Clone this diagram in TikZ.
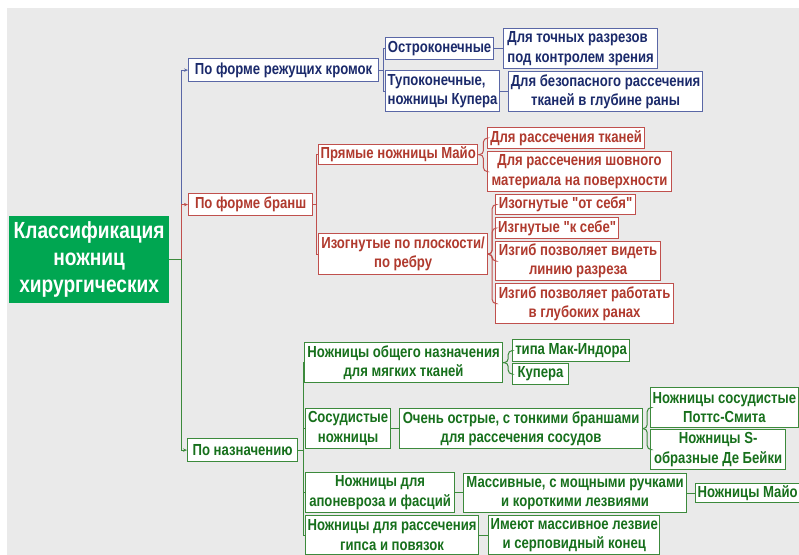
\documentclass[tikz,border=0pt]{standalone}
\usepackage{fontspec}
\newfontfamily\narrowsans[FakeStretch=0.82]{Liberation Sans}
\usepackage{xcolor}
\usepackage{tikz}
\usetikzlibrary{arrows.meta}
\definecolor{navy}{HTML}{1B2A6B}
\definecolor{navyedge}{HTML}{5A67A6}
\definecolor{brick}{HTML}{B03A2E}
\definecolor{brickedge}{HTML}{C0504D}
\definecolor{forest}{HTML}{17701C}
\definecolor{forestedge}{HTML}{3C8A3C}
\definecolor{leaf}{HTML}{00A651}
\definecolor{canvas}{HTML}{EAEAEA}
\tikzstyle{basebox} = [
    rectangle,
    fill=white,
    line width=0.9pt,
    inner xsep=1.5pt,
    inner ysep=1pt,
    anchor=north west,
    font=\narrowsans\fontsize{12}{14.5}\selectfont\bfseries
]
\tikzstyle{rootbox} = [
    rectangle,
    fill=leaf,
    text=white,
    align=center,
    anchor=north west,
    font=\narrowsans\fontsize{17.5}{20.3}\selectfont\bfseries
]
\tikzstyle{bluebox} = [basebox, draw=navyedge, text=navy]
\tikzstyle{redbox} = [basebox, draw=brickedge, text=brick]
\tikzstyle{greenbox} = [basebox, draw=forestedge, text=forest]
\tikzstyle{bluelink} = [line width=0.75pt, draw=navyedge]
\tikzstyle{redlink} = [line width=0.75pt, draw=brickedge]
\tikzstyle{greenlink} = [line width=0.75pt, draw=forestedge]
\tikzstyle{branch} = [-{Stealth[length=3pt,width=2.5pt]}]
\tikzstyle{brace} = [rounded corners=3pt]

\begin{document}
\begin{tikzpicture}[
    x=0.75pt,
    y=-0.75pt
]

\fill [white] (0,0) rectangle (799,555);
\fill [canvas] (7,8) rectangle (799,555);
\useasboundingbox (0,0) rectangle (799,555);

\node (root) [rootbox, minimum width=115.5pt, minimum height=65.25pt] at (9,216)
{Классификация\\ножниц\\хирургических};

\node (tips) [bluebox, minimum width=142.5pt, minimum height=17.25pt] at (188,58)
{По форме режущих кромок};

\node (pointed) [bluebox, minimum width=81pt, minimum height=16.5pt] at (385,37)
{Остроконечные};

\node (blunt) [bluebox, align=left, minimum width=85.5pt, minimum height=30.75pt] at (385,70)
{Тупоконечные,\\ножницы Купера};

\node (precise) [bluebox, align=left, minimum width=115.5pt, minimum height=30pt] at (503,28)
{Для точных разрезов\\под контролем зрения};

\node (safe) [bluebox, align=center, minimum width=145.5pt, minimum height=30pt] at (508,71)
{Для безопасного рассечения\\тканей в глубине раны};

\node (blades) [redbox, minimum width=93pt, minimum height=16.5pt] at (188,193)
{По форме бранш};

\node (straight) [redbox, minimum width=118.5pt, minimum height=15pt] at (318,144)
{Прямые ножницы Майо};

\node (curved) [redbox, align=center, minimum width=126.75pt, minimum height=30.75pt] at (318,233)
{Изогнутые по плоскости/\\по ребру};

\node (tissue) [redbox, minimum width=117.75pt, minimum height=15.75pt] at (487,127)
{Для рассечения тканей};

\node (suture) [redbox, align=center, minimum width=138pt, minimum height=30pt] at (487,151)
{Для рассечения шовного\\материала на поверхности};

\node (away) [redbox, minimum width=105pt, minimum height=15pt] at (495,194)
{Изогнутые "от себя"};

\node (toward) [redbox, minimum width=92.25pt, minimum height=15.75pt] at (495,217)
{Изгнутые "к себе"};

\node (view) [redbox, align=center, minimum width=123.75pt, minimum height=29.25pt] at (495,241)
{Изгиб позволяет видеть\\линию разреза};

\node (deep) [redbox, align=center, minimum width=133.5pt, minimum height=30pt] at (495,283)
{Изгиб позволяет работать\\в глубоких ранах};

\node (purpose) [greenbox, minimum width=82.5pt, minimum height=17.25pt] at (187,438)
{По назначению};

\node (general) [greenbox, align=center, minimum width=148.5pt, minimum height=30pt] at (304,342)
{Ножницы общего назначения\\для мягких тканей};

\node (vascular) [greenbox, align=center, minimum width=63.75pt, minimum height=30pt] at (305,408)
{Сосудистые\\ножницы};

\node (fascia) [greenbox, align=center, minimum width=111.75pt, minimum height=30pt] at (305,472)
{Ножницы для\\апоневроза и фасций};

\node (cast) [greenbox, align=center, minimum width=129pt, minimum height=29.25pt] at (305,515)
{Ножницы для рассечения\\гипса и повязок};

\node (macindoe) [greenbox, minimum width=87.75pt, minimum height=16.5pt] at (512,339)
{типа Мак-Индора};

\node (cooper) [greenbox, minimum width=42pt, minimum height=15.75pt] at (512,363)
{Купера};

\node (sharp) [greenbox, align=center, minimum width=182.25pt, minimum height=30pt] at (399,408)
{Очень острые, с тонкими браншами\\для рассечения сосудов};

\node (potts) [greenbox, align=center, minimum width=110.25pt, minimum height=30pt] at (650,387)
{Ножницы сосудистые\\Поттс-Смита};

\node (debakey) [greenbox, align=center, minimum width=101.25pt, minimum height=30pt] at (650,429)
{Ножницы S-\\образные Де Бейки};

\node (massive) [greenbox, align=center, minimum width=167.25pt, minimum height=29.25pt] at (463,473)
{Массивные, с мощными ручками\\и короткими лезвиями};

\node (mayo) [greenbox, minimum width=77.25pt, minimum height=14.25pt] at (695,483)
{Ножницы Майо};

\node (sickle) [greenbox, align=center, minimum width=128.25pt, minimum height=29.25pt] at (488,515)
{Имеют массивное лезвие\\и серповидный конец};

\draw [bluelink, branch] (root.east) -- ++(12,0) |- (tips.west);

\draw [redlink, branch] (root.east) -- ++(12,0) |- (blades.west);

\draw [greenlink, branch] (root.east) -- ++(12,0) |- (purpose.west);

\draw [bluelink] (tips.east) -- ++(4,0) |- (pointed.west);

\draw [bluelink] (tips.east) -- ++(4,0) |- (blunt.west);

\draw [bluelink] (pointed) -- (precise);

\draw [bluelink] (blunt.east) -- (blunt.east -| safe.west);

\draw [redlink] (blades.east) -- ++(3,0) |- (straight.west);

\draw [redlink] (blades.east) -- ++(3,0) |- (curved.west);

\foreach \leaf in {tissue, suture}
    \draw [redlink, brace] (straight.east) -- ++(5,0) |- (\leaf.west);

\foreach \leaf in {away, toward, view, deep}
    \draw [redlink, brace] (curved.east) -- ++(4,0) |- (\leaf.west);

\foreach \leaf in {general, vascular, fascia, cast}
    \draw [greenlink] (purpose.east) -- ++(5,0) |- (\leaf.west);

\foreach \leaf in {macindoe, cooper}
    \draw [greenlink, brace] (general.east) -- ++(5,0) |- (\leaf.west);

\foreach \leaf in {potts, debakey}
    \draw [greenlink, brace] (sharp.east) -- ++(4,0) |- (\leaf.west);

\draw [greenlink] (vascular) -- (sharp);

\draw [greenlink] (fascia.east) -- (fascia.east -| massive.west);

\draw [greenlink] (massive) -- (mayo);

\draw [greenlink] (cast.east) -- (cast.east -| sickle.west);

\end{tikzpicture}
\end{document}
